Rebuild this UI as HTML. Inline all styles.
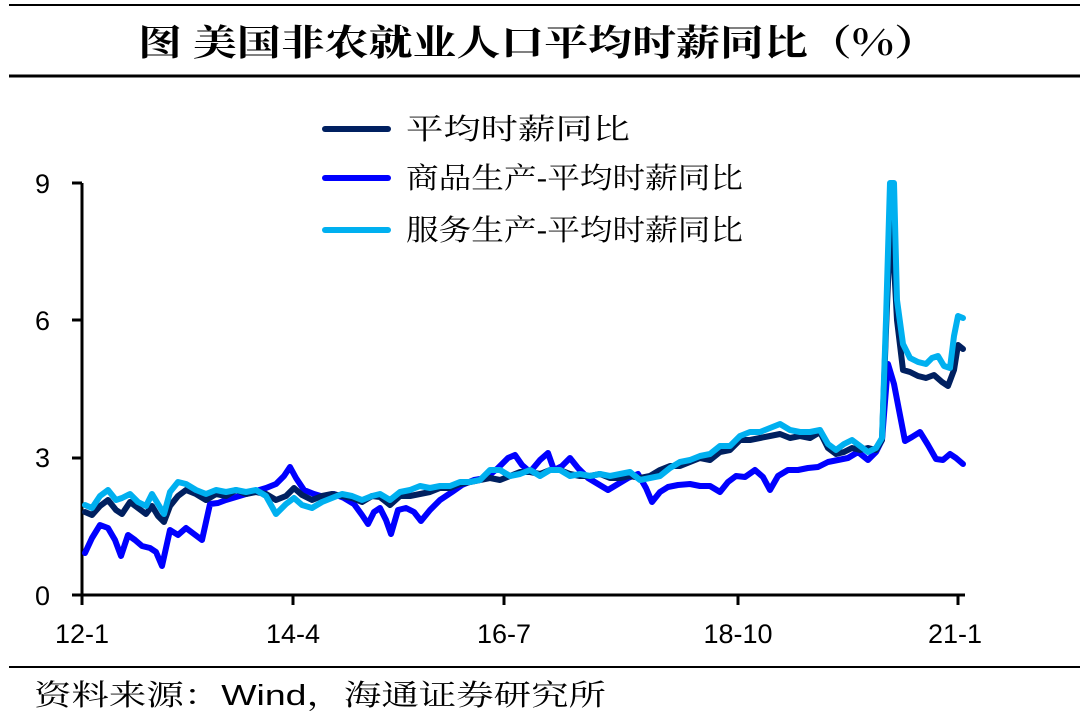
<!DOCTYPE html>
<html><head><meta charset="utf-8"><style>
body{margin:0;background:#fff;}
svg{display:block}
</style></head><body>
<svg width="1080" height="723" viewBox="0 0 1080 723" xmlns="http://www.w3.org/2000/svg">
<line x1="9" y1="5" x2="1080" y2="5" stroke="#000" stroke-width="2"/>
<line x1="9" y1="76" x2="1080" y2="76" stroke="#000" stroke-width="3"/>
<line x1="9" y1="667" x2="1080" y2="667" stroke="#000" stroke-width="2"/>
<text x="138" y="55" textLength="800" lengthAdjust="spacingAndGlyphs" font-family="'Noto Serif CJK SC','Noto Sans CJK SC',serif" font-weight="bold" font-size="36">图 美国非农就业人口平均时薪同比（%）</text>
<g font-family="'Liberation Sans',sans-serif" font-size="27" fill="#000">
<text x="50" y="193" text-anchor="end">9</text>
<text x="50" y="330" text-anchor="end">6</text>
<text x="50" y="467" text-anchor="end">3</text>
<text x="50" y="605" text-anchor="end">0</text>
<text x="82" y="643" text-anchor="middle">12-1</text>
<text x="293" y="643" text-anchor="middle">14-4</text>
<text x="504" y="643" text-anchor="middle">16-7</text>
<text x="738" y="643" text-anchor="middle">18-10</text>
<text x="955" y="643" text-anchor="middle">21-1</text>
</g>
<g stroke="#000" stroke-width="3">
<line x1="82" y1="183" x2="82" y2="596"/>
<line x1="72" y1="595" x2="965" y2="595"/>
<line x1="72" y1="183" x2="82" y2="183"/>
<line x1="72" y1="320" x2="82" y2="320"/>
<line x1="72" y1="458" x2="82" y2="458"/>
<line x1="82" y1="595" x2="82" y2="605"/>
<line x1="293" y1="595" x2="293" y2="605"/>
<line x1="504" y1="595" x2="504" y2="605"/>
<line x1="738" y1="595" x2="738" y2="605"/>
<line x1="958" y1="595" x2="958" y2="605"/>
</g>
<g fill="none" stroke-width="6" stroke-linejoin="round" stroke-linecap="round">
<polyline stroke="#0000FF" points="85,553 92,538 100,525 108,528 115,540 121,556 128,535 135,540 142,546 150,548 156,552 162,566 170,530 178,535 186,528 194,534 202,540 210,504 218,503 226,500 236,497 246,494 256,491 266,488 276,484 284,476 290,467 296,478 304,490 314,494 324,497 334,494 344,498 354,504 362,515 368,524 374,512 380,508 386,520 391,534 398,510 406,508 414,512 421,521 430,510 440,500 452,492 462,485 474,480 486,478 498,468 508,458 515,455 522,465 530,472 540,460 548,453 554,470 562,466 570,458 578,468 588,478 598,484 608,490 618,484 628,478 638,474 646,488 652,502 660,492 668,487 678,485 690,484 700,486 710,486 720,492 728,482 736,476 745,477 755,470 763,477 770,490 778,476 788,470 798,470 808,468 818,467 828,462 838,460 848,458 858,452 868,460 876,452 882,440 888,364 894,384 899,410 905,441 912,437 920,432 928,445 936,459 943,460 950,454 956,458 963,464"/>
<polyline stroke="#002060" points="85,512 92,515 100,506 108,500 116,510 122,514 130,502 138,508 146,514 152,506 158,516 164,522 170,506 178,496 186,490 196,494 206,500 216,494 226,496 236,490 246,494 256,492 266,494 276,500 286,496 294,488 302,495 312,500 322,496 332,494 342,496 352,498 362,502 372,496 380,497 390,505 400,496 410,496 420,494 430,492 440,488 450,488 460,484 470,482 480,480 490,478 500,480 510,476 520,472 530,472 540,474 550,470 560,470 570,474 580,476 590,476 600,474 610,478 620,478 630,476 640,478 650,476 660,470 670,466 680,466 690,462 700,458 710,460 720,452 730,450 740,440 750,440 760,438 770,436 780,434 790,438 800,436 810,438 820,432 828,448 836,454 844,452 852,448 860,450 868,448 876,450 882,440 886,330 891,210 897,320 903,370 910,372 918,376 926,378 934,375 942,382 948,386 954,370 958,345 963,349"/>
<polyline stroke="#00B0F0" points="85,505 92,508 100,496 108,490 116,500 122,498 130,494 138,502 146,506 152,494 158,504 164,514 170,492 178,482 186,484 196,490 206,494 216,490 226,492 236,490 246,492 256,490 266,496 276,514 286,504 294,498 302,505 312,508 322,502 332,498 342,494 352,496 362,500 372,496 380,494 390,500 400,492 410,490 420,486 430,488 440,486 450,486 460,482 470,482 480,480 490,470 500,470 510,476 520,474 530,470 540,476 550,470 560,470 570,476 580,474 590,476 600,474 610,476 620,474 630,472 640,480 650,478 660,476 670,468 680,462 690,460 700,456 710,454 720,446 730,446 740,436 750,432 760,432 770,428 780,424 790,430 800,432 810,432 820,430 828,444 836,450 844,444 852,440 860,446 868,452 876,448 882,438 886,320 890,183 894,183 897,300 903,344 910,358 918,362 926,364 932,358 938,356 944,366 950,368 954,336 958,316 963,318"/>
<line x1="325" y1="129" x2="388" y2="129" stroke="#002060"/>
<line x1="325" y1="178" x2="388" y2="178" stroke="#0000FF"/>
<line x1="325" y1="230" x2="388" y2="230" stroke="#00B0F0"/>
</g>
<g font-family="'Liberation Sans','Noto Serif CJK SC',serif" font-size="29" fill="#000">
<text x="406" y="139" textLength="224" lengthAdjust="spacingAndGlyphs">平均时薪同比</text>
<text x="406" y="188" textLength="337" lengthAdjust="spacingAndGlyphs">商品生产-平均时薪同比</text>
<text x="406" y="240" textLength="337" lengthAdjust="spacingAndGlyphs">服务生产-平均时薪同比</text>
<text x="34" y="705" textLength="572" lengthAdjust="spacingAndGlyphs">资料来源：Wind，海通证券研究所</text>
</g>
</svg>
</body></html>
